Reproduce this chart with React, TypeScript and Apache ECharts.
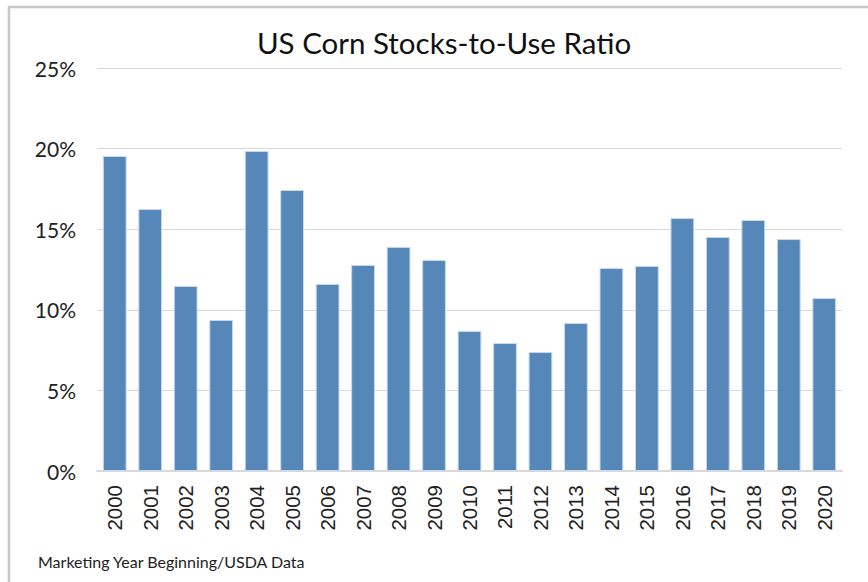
import React, { useEffect, useRef } from "react";
import * as echarts from "echarts";

const years = ["2000","2001","2002","2003","2004","2005","2006","2007","2008","2009","2010","2011","2012","2013","2014","2015","2016","2017","2018","2019","2020"];
const ratios = [19.54,16.25,11.48,9.37,19.85,17.43,11.6,12.78,13.9,13.09,8.68,7.94,7.38,9.18,12.59,12.72,15.69,14.52,15.57,14.39,10.73];
const yTicks = [0, 5, 10, 15, 20, 25];

export default function App() {
  const ref = useRef<HTMLDivElement>(null);
  useEffect(() => {
    if (!ref.current) return;
    const chart = echarts.init(ref.current, null, { renderer: "svg" });
    chart.setOption({
      animation: false,
      backgroundColor: "#ffffff",
      title: {
        text: "US Corn Stocks-to-Use Ratio",
        left: 439,
        top: 22,
        textAlign: "center",
        textStyle: { fontFamily: "Lato", fontSize: 29.5, fontWeight: "normal", color: "#111" },
      },
      graphic: [
        { type: "rect", shape: { x: 9, y: 7, width: 900, height: 620 }, style: { fill: "none", stroke: "#c8c8c8", lineWidth: 2.5 }, z: 100 },
        { type: "text", left: 38, top: 553, style: { text: "Marketing Year Beginning/USDA Data", font: "16px Lato", fill: "#222" } },
      ],
      grid: { left: 97, right: 26, top: 68, bottom: 111 },
      xAxis: {
        type: "category",
        data: years,
        axisTick: { show: false },
        axisLine: { lineStyle: { color: "#d9d9d9", width: 2 } },
        axisLabel: { rotate: 90, fontFamily: "Liberation Sans", fontSize: 20.5, color: "#222", margin: 14 },
      },
      yAxis: {
        type: "value",
        min: 0,
        max: 25,
        interval: 5,
        axisLabel: {
          formatter: (v: number) => (yTicks.includes(v) ? `${v}%` : ""),
          fontFamily: "Lato",
          fontSize: 21,
          color: "#222",
          margin: 21,
        },
        splitLine: { lineStyle: { color: "#d9d9d9", width: 1 } },
        axisLine: { show: false },
        axisTick: { show: false },
      },
      series: [
        {
          type: "bar",
          data: ratios,
          barWidth: "67%",
          itemStyle: { color: "#5588b8", borderColor: "#c9d8ea", borderWidth: 1 },
        },
      ],
    });
    return () => chart.dispose();
  }, []);
  return <div ref={ref} style={{ position: "fixed", left: 0, top: 0, width: 868, height: 582 }} />;
}
